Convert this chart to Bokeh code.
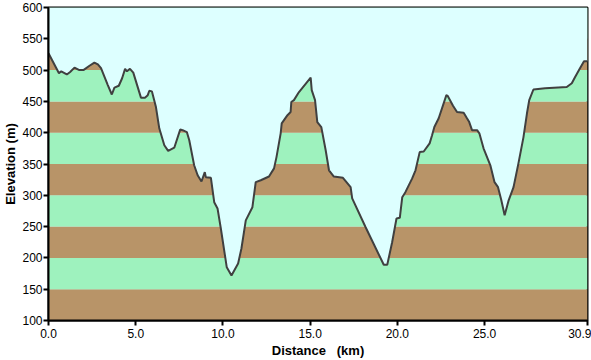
from bokeh.plotting import figure
from bokeh.models import Range1d, FixedTicker, NumeralTickFormatter, ColumnDataSource
from bokeh.embed import file_html
from bokeh.resources import INLINE

# Profile data (distance km, elevation m)
dist_km = [0.0, 0.6, 0.73, 1.05, 1.24, 1.49, 1.77, 2.0, 2.35, 2.63, 2.83, 3.01, 3.40, 3.63,
           3.78, 4.03, 4.22, 4.39, 4.50, 4.67, 4.86, 5.30, 5.53, 5.69, 5.78, 5.93, 6.16,
           6.35, 6.64, 6.86, 7.21, 7.55, 7.69, 7.93, 8.07, 8.35, 8.55, 8.77, 8.96, 9.02,
           9.31, 9.50, 9.69, 9.88, 10.22, 10.49, 10.87, 11.06, 11.31, 11.69, 11.88, 12.17,
           12.64, 12.93, 13.07, 13.31, 13.37, 13.70, 13.88, 13.92, 14.07, 14.36, 15.03,
           15.09, 15.28, 15.41, 15.64, 15.89, 16.08, 16.36, 16.88, 17.32, 17.41, 18.18,
           19.22, 19.42, 19.70, 19.95, 20.14, 20.28, 20.46, 20.85, 21.04, 21.28, 21.51,
           21.85, 21.99, 22.12, 22.37, 22.81, 22.88, 23.19, 23.42, 23.80, 23.99, 24.12,
           24.28, 24.57, 24.70, 24.94, 25.33, 25.57, 25.77, 25.96, 26.15, 26.38, 26.66,
           26.94, 27.23, 27.43, 27.56, 27.80, 28.47, 29.71, 30.00, 30.19, 30.47, 30.70, 30.9]
elev_m = [527, 495, 498, 493, 497, 504, 500, 500, 507, 512, 509, 503, 476, 461,
          472, 475, 487, 502, 498, 502, 496, 456, 456, 460, 467, 466, 441,
          407, 380, 371, 376, 405, 404, 401, 388, 348, 332, 322, 337, 329,
          328, 289, 279, 247, 185, 172, 191, 215, 260, 281, 321, 324,
          330, 343, 361, 399, 415, 428, 433, 449, 452, 465, 488,
          468, 452, 417, 409, 372, 340, 330, 328, 313, 295, 249,
          189, 189, 225, 263, 264, 297, 305, 327, 340, 369, 370,
          383, 396, 409, 423, 460, 459, 443, 433, 432, 423, 417,
          404, 404, 399, 375, 348, 321, 313, 292, 268, 292, 313,
          351, 393, 431, 452, 469, 471, 473, 479, 489, 503, 514, 514]

band_bottom = [100, 150, 200, 250, 300, 350, 400, 450, 500, 550]
band_top = [150, 200, 250, 300, 350, 400, 450, 500, 550, 600]
band_color = ["#B89468", "#9EF2BE"] * 5

x_ticks = [0, 5, 10, 15, 20, 25, 30.9]
y_ticks = [100, 150, 200, 250, 300, 350, 400, 450, 500, 550, 600]

SKY = "#DDFFFF"

p = figure(width=591, height=360, output_backend="svg", toolbar_location=None,
           x_range=Range1d(0, 30.9), y_range=Range1d(100, 600),
           min_border_left=0, min_border_right=4, min_border_top=7, min_border_bottom=0)

p.background_fill_color = SKY
p.border_fill_color = "white"
p.outline_line_color = "black"
p.outline_line_width = 2
p.grid.visible = False

bands = ColumnDataSource(dict(bottom=band_bottom, top=band_top, color=band_color,
                              left=[0] * len(band_bottom), right=[30.9] * len(band_bottom)))
p.quad(left="left", right="right", bottom="bottom", top="top", fill_color="color",
       line_color=None, source=bands)

prof = ColumnDataSource(dict(x=dist_km, y=elev_m, top=[600] * len(dist_km)))
p.varea(x="x", y1="y", y2="top", fill_color=SKY, source=prof)
p.line(x="x", y="y", line_color="#404040", line_width=2, source=prof)

for ax in (p.xaxis[0], p.yaxis[0]):
    ax.axis_line_color = "black"
    ax.axis_line_width = 2
    ax.major_tick_line_color = "black"
    ax.major_tick_line_width = 2
    ax.major_tick_out = 5
    ax.major_tick_in = 0
    ax.minor_tick_line_color = None
    ax.major_label_text_font = "Liberation Sans"
    ax.major_label_text_font_size = "12px"
    ax.major_label_text_color = "black"
    ax.axis_label_text_font = "Liberation Sans"
    ax.axis_label_text_font_size = "13px"
    ax.axis_label_text_font_style = "bold"
    ax.axis_label_text_color = "black"

p.xaxis.ticker = FixedTicker(ticks=x_ticks)
p.xaxis.formatter = NumeralTickFormatter(format="0.0")
p.xaxis.axis_label = "Distance\u00a0\u00a0 (km)"
p.xaxis.major_label_standoff = 3
p.xaxis.axis_label_standoff = 2

p.yaxis.ticker = FixedTicker(ticks=y_ticks)
p.yaxis.axis_label = "Elevation (m)"
p.yaxis.major_label_standoff = 1
p.yaxis.axis_label_standoff = 1

open("out.html", "w").write(file_html(p, INLINE))
